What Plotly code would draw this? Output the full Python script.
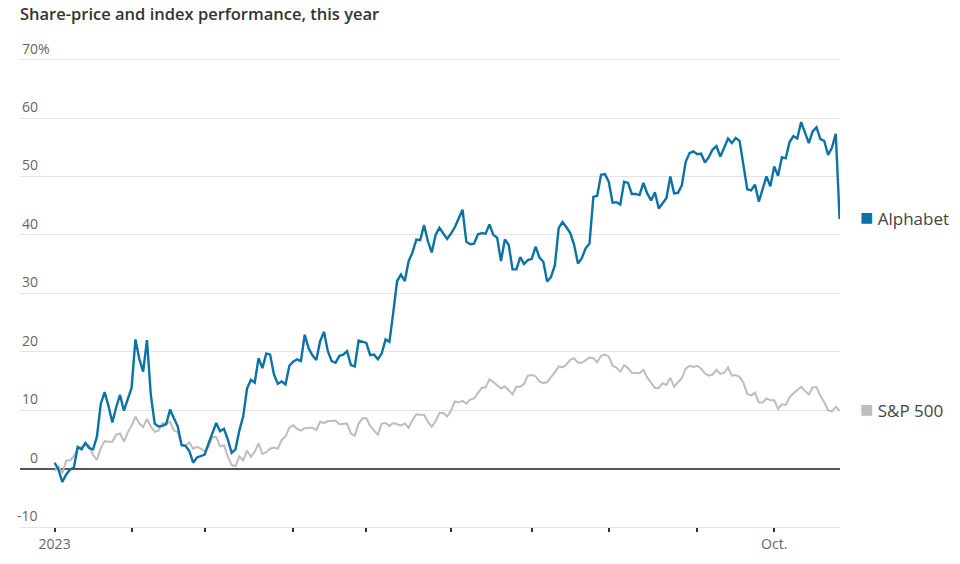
import pandas as pd
import plotly.graph_objects as go

# Exchange holidays in 2023 (the x-axis runs on trading days only)
HOLIDAYS = ["2023-01-16", "2023-02-20", "2023-04-07", "2023-05-29",
            "2023-06-19", "2023-07-04", "2023-09-04"]
trading_days = pd.bdate_range("2023-01-03", "2023-10-25", freq="C", holidays=HOLIDAYS)
dates = [d.strftime("%Y-%m-%d") for d in trading_days]

# Alphabet, % change since end of 2022, by month
goog_jan = [1.0, -0.2, -2.3, -1.0, -0.2, 0.2, 3.7, 3.3, 4.4, 3.5, 3.3, 5.5, 11.1, 13.1, 10.7, 7.9, 10.5, 12.6, 9.9, 12.0]
goog_feb = [13.8, 22.1, 18.8, 16.6, 22.0, 12.6, 7.7, 7.2, 7.3, 7.6, 10.1, 8.6, 7.2, 4.0, 3.9, 3.0, 1.0, 1.9, 2.1]
goog_mar = [2.4, 4.3, 6.1, 7.8, 6.4, 6.8, 5.0, 2.7, 3.3, 6.5, 8.9, 13.7, 15.2, 14.7, 18.9, 17.2, 19.7, 19.5, 16.1, 14.5, 14.9, 14.4, 17.6]
goog_apr = [18.3, 18.7, 18.4, 22.9, 20.6, 19.4, 18.6, 21.8, 23.4, 20.1, 18.4, 18.1, 19.3, 19.5, 20.1, 17.7, 17.5, 21.9, 21.7]
goog_may = [21.5, 19.4, 19.5, 18.7, 19.7, 22.1, 21.7, 26.7, 32.1, 33.2, 32.1, 35.5, 37.0, 39.2, 39.1, 41.7, 38.9, 37.0, 40.0, 41.2, 40.2, 39.3]
goog_jun = [40.2, 41.3, 42.8, 44.3, 38.8, 38.4, 38.5, 40.1, 40.3, 40.2, 41.8, 40.0, 39.5, 35.5, 39.2, 38.3, 34.1, 34.1, 36.2, 35.0, 35.7]
goog_jul = [35.9, 38.0, 36.1, 35.4, 32.0, 32.8, 34.8, 41.2, 42.2, 41.3, 40.3, 38.3, 35.1, 36.0, 37.7, 38.5, 46.5, 46.7, 50.3, 50.4]
goog_aug = [49.1, 45.5, 45.6, 45.2, 49.1, 48.9, 47.0, 47.0, 46.8, 48.9, 47.1, 45.9, 47.3, 44.5, 45.5, 46.3, 50.0, 47.1, 47.2, 48.5, 52.5, 54.0, 54.3]
goog_sep = [53.8, 53.9, 52.4, 53.3, 54.6, 55.2, 53.4, 54.9, 56.5, 55.7, 56.6, 56.1, 51.6, 47.8, 47.6, 48.6, 45.7, 48.0, 50.0, 48.3]
goog_oct = [51.7, 50.1, 53.3, 53.1, 55.9, 56.9, 56.5, 59.3, 57.5, 55.7, 57.7, 58.4, 56.4, 56.1, 53.7, 54.9, 57.3, 42.7]

# S&P 500, % change since end of 2022, by month
spx_jan = [-0.4, 0.4, -0.8, 1.4, 1.4, 2.1, 3.4, 3.7, 4.2, 3.9, 2.3, 1.5, 3.5, 4.7, 4.6, 4.6, 5.8, 6.0, 4.6, 6.2]
spx_feb = [7.3, 8.9, 7.7, 7.1, 8.5, 7.2, 6.3, 6.5, 7.8, 7.7, 8.0, 6.5, 6.2, 4.1, 3.9, 4.5, 3.4, 3.7, 3.4]
spx_mar = [2.9, 3.7, 5.4, 5.4, 3.8, 4.0, 2.1, 0.6, 0.4, 2.1, 1.4, 3.1, 2.0, 2.9, 4.3, 2.5, 2.8, 3.4, 3.6, 3.4, 4.9, 5.5, 7.0]
spx_apr = [7.4, 6.8, 6.5, 6.9, 7.0, 7.0, 6.6, 8.0, 7.8, 8.1, 8.2, 8.2, 7.6, 7.7, 7.7, 6.0, 5.6, 7.7, 8.6]
spx_may = [8.6, 7.3, 6.5, 5.8, 7.7, 7.8, 7.3, 7.8, 7.6, 7.4, 7.7, 7.0, 8.3, 9.3, 9.2, 9.2, 8.0, 7.2, 8.1, 9.5, 9.5, 8.9]
spx_jun = [9.9, 11.5, 11.3, 11.6, 11.1, 11.8, 12.0, 13.0, 13.8, 13.9, 15.3, 14.8, 14.3, 13.7, 14.1, 13.3, 12.7, 14.0, 14.0, 14.5, 15.9]
spx_jul = [16.0, 15.8, 14.9, 14.6, 14.8, 15.6, 16.5, 17.5, 17.3, 17.8, 18.6, 18.9, 18.1, 18.1, 18.6, 19.0, 18.9, 18.2, 19.3, 19.5]
spx_aug = [19.2, 17.6, 17.3, 16.6, 17.7, 17.2, 16.4, 16.4, 16.3, 16.9, 15.6, 14.7, 13.8, 13.8, 14.6, 14.3, 15.5, 14.0, 14.7, 15.5, 17.1, 17.6, 17.4]
spx_sep = [17.6, 17.1, 16.3, 15.9, 16.1, 16.9, 16.2, 16.4, 17.3, 15.9, 16.0, 15.7, 14.7, 12.8, 12.5, 13.0, 11.3, 11.3, 12.0, 11.7]
spx_oct = [11.7, 10.2, 11.0, 10.9, 12.2, 12.9, 13.5, 14.0, 13.3, 12.7, 13.9, 13.9, 12.4, 11.4, 10.0, 9.8, 10.6, 9.9]

alphabet = (goog_jan + goog_feb + goog_mar + goog_apr + goog_may +
            goog_jun + goog_jul + goog_aug + goog_sep + goog_oct)
sp500 = (spx_jan + spx_feb + spx_mar + spx_apr + spx_may +
         spx_jun + spx_jul + spx_aug + spx_sep + spx_oct)
assert len(dates) == len(alphabet) == len(sp500)

Y_TICKS = [-10, 0, 10, 20, 30, 40, 50, 60, 70]
MONTH_LABELS = {1: "2023", 10: "Oct."}

BLUE = "#0b72a6"
GRAY = "#bdbdbd"
GRID = "#e3e3e3"
TEXT = "#333333"
FONT = "Open Sans"

# first trading day of every month gets a tick
month_starts, month_text = [], []
for d in trading_days:
    s = d.strftime("%Y-%m-%d")
    if not month_starts or d.month != pd.Timestamp(month_starts[-1]).month:
        month_starts.append(s)
        month_text.append(MONTH_LABELS.get(d.month, ""))

fig = go.Figure()
fig.add_trace(go.Scatter(x=dates, y=sp500, mode="lines", name="S&P 500",
                         line=dict(color=GRAY, width=2)))
fig.add_trace(go.Scatter(x=dates, y=alphabet, mode="lines", name="Alphabet",
                         line=dict(color=BLUE, width=2.4)))

# plotly skips the gridline at the very top of the range, so draw it
fig.add_hline(y=Y_TICKS[-1], line_color=GRID, line_width=1, layer="below")

annotations = []
# y tick labels sit above the gridlines, right-aligned
for v in Y_TICKS:
    annotations.append(dict(xref="paper", yref="y", x=0.024, y=v, text=str(v),
                            xanchor="right", yanchor="bottom", showarrow=False,
                            font=dict(family=FONT, size=14, color="#666666")))
annotations.append(dict(xref="paper", yref="y", x=0.024, y=Y_TICKS[-1], text="%",
                        xanchor="left", yanchor="bottom", xshift=-4, showarrow=False,
                        font=dict(family=FONT, size=14, color="#666666")))

# end-of-line labels
for name, series, color in [("Alphabet", alphabet, BLUE), ("S&P 500", sp500, GRAY)]:
    annotations.append(dict(xref="paper", yref="y", x=1.022, y=series[-1],
                            text=f'<span style="color:{color};font-size:22px">■</span> {name}',
                            xanchor="left", yanchor="middle", yshift=3, showarrow=False,
                            font=dict(family=FONT, size=17, color="#444444")))

fig.update_layout(
    width=960, height=564,
    margin=dict(l=20, r=120, t=59, b=37),
    plot_bgcolor="white", paper_bgcolor="white",
    showlegend=False,
    title=dict(text="Share-price and index performance, this year",
               x=20 / 960, xanchor="left", xref="container",
               y=1 - 14 / 564, yanchor="middle", yref="container",
               font=dict(family=FONT, size=16.5, color=TEXT, weight=600)),
    annotations=annotations,
    xaxis=dict(type="category", range=[-9, 204.1], showgrid=False, zeroline=False,
               tickmode="array", tickvals=month_starts, ticktext=month_text,
               ticks="outside", ticklen=4, tickwidth=1.5, tickcolor="#333333",
               tickfont=dict(family=FONT, size=14, color="#666666"),
               showline=True, linecolor=GRID, linewidth=1),
    yaxis=dict(range=[-10, 70.1], tickvals=Y_TICKS, showticklabels=False,
               showgrid=True, gridcolor=GRID, gridwidth=1,
               zeroline=True, zerolinecolor="#555555", zerolinewidth=1.5),
)

# the page's default 8px body margin would push the figure off its intended position
fig.write_html("out.html", config={"displayModeBar": False},
               post_script="document.body.style.margin = '0';")
